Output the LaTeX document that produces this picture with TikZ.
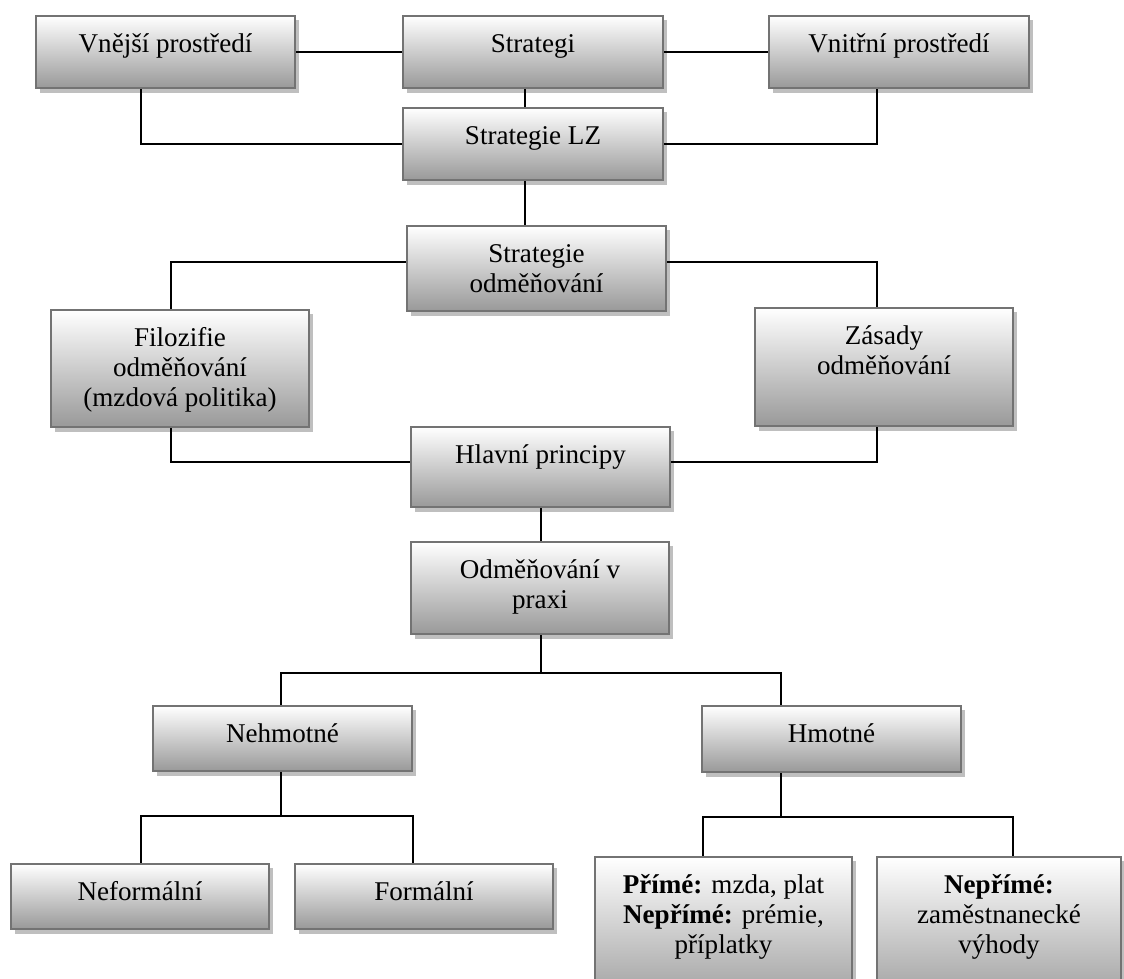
\documentclass[tikz,border=0pt]{standalone}
\usepackage{fontspec}
\setmainfont{Liberation Serif}
\tikzset{
  boxst/.style={rectangle, draw=black!55, line width=1.6pt, top color=white, bottom color=black!40, inner sep=0pt},
  shadowst/.style={fill=black!25},
  txt/.style={anchor=north, inner sep=0pt, align=center, font=\fontsize{20.3pt}{22.5pt}\selectfont},
  conn/.style={draw=black, line width=1.2pt}
}
\newcommand\obox[6]{%
  \fill[shadowst] ({#2+4},{#3+4}) rectangle ({#4+4},{#5+5});
  \node[boxst, minimum width={(#4-#2)*0.75pt}, minimum height={(#5-#3)*0.75pt}] (#1) at ({(#2+#4)/2},{(#3+#5)/2}) {};
  \node[txt] (#1t) at ({(#2+#4)/2},{#3+15}) {#6};
}
\begin{document}
\begin{tikzpicture}[x=0.75pt,y=-0.75pt]
\useasboundingbox (0,0) rectangle (1124,978);
\clip (0,0) rectangle (1124,978);
\obox{vne}{36}{16}{295}{88}{\strut Vnější prostředí}
\obox{str}{403}{16}{663}{88}{\strut Strategi}
\obox{vni}{769}{16}{1029}{88}{\strut Vnitřní prostředí}
\obox{lz}{403}{108}{663}{180}{\strut Strategie LZ}
\obox{so}{407}{226}{666}{311}{\strut Strategie\\\strut odměňování}
\obox{filo}{51}{310}{309}{427}{\strut Filozifie\\\strut odměňování\\\strut (mzdová politika)}
\obox{zas}{755}{308}{1013}{426}{\strut Zásady\\\strut odměňování}
\obox{hla}{411}{427}{670}{507}{\strut Hlavní principy}
\obox{odm}{411}{542}{669}{634}{\strut Odměňování v\\\strut praxi}
\obox{neh}{153}{706}{412}{771}{\strut Nehmotné}
\obox{hmo}{702}{706}{961}{772}{\strut Hmotné}
\obox{nef}{11}{864}{269}{929}{\strut Neformální}
\obox{for}{295}{864}{553}{929}{\strut Formální}
\obox{pri}{595}{857}{852}{1010}{\strut\textbf{Přímé:} mzda, plat\\\strut\textbf{Nepřímé:} prémie,\\\strut příplatky}
\obox{nep}{877}{857}{1121}{1010}{\strut\textbf{Nepřímé:}\\\strut zaměstnanecké\\\strut výhody}
% junction coordinates
\coordinate (c1) at (525,0);
\coordinate (c2) at (141,142);
\coordinate (c3) at (877,0);
\coordinate (c4) at (171,262);
\coordinate (c5) at (0,462);
\coordinate (c6) at (541,673);
\coordinate (c7) at (281,673);
\coordinate (c8) at (781,673);
\coordinate (c9) at (281,816);
\coordinate (c10) at (141,816);
\coordinate (c11) at (413,816);
\coordinate (c12) at (781,817);
\coordinate (c13) at (703,817);
\coordinate (c14) at (1013,817);
% connectors
\draw[conn] (vne.east) -- (str.west);
\draw[conn] (str.east) -- (vni.west);
\draw[conn] (str.south -| c1) -- (lz.north -| c1);
\draw[conn] (vne.south -| c2) |- (lz.west);
\draw[conn] (vni.south -| c3) |- (lz.east);
\draw[conn] (lz.south -| c1) -- (so.north -| c1);
\draw[conn] (so.west |- c4) -| (filo.north -| c4);
\draw[conn] (so.east |- c4) -| (zas.north -| c3);
\draw[conn] (filo.south -| c4) |- (hla.west |- c5);
\draw[conn] (zas.south -| c3) |- (hla.east |- c5);
\draw[conn] (hla.south -| c6) -- (odm.north -| c6);
\draw[conn] (odm.south -| c6) -- (c6);
\draw[conn] (neh.north -| c7) -- (c7) -- (c8) -- (hmo.north -| c8);
\draw[conn] (neh.south -| c9) -- (c9);
\draw[conn] (nef.north -| c10) -- (c10) -- (c11) -- (for.north -| c11);
\draw[conn] (hmo.south -| c12) -- (c12);
\draw[conn] (pri.north -| c13) -- (c13) -- (c14) -- (nep.north -| c14);
\end{tikzpicture}
\end{document}
